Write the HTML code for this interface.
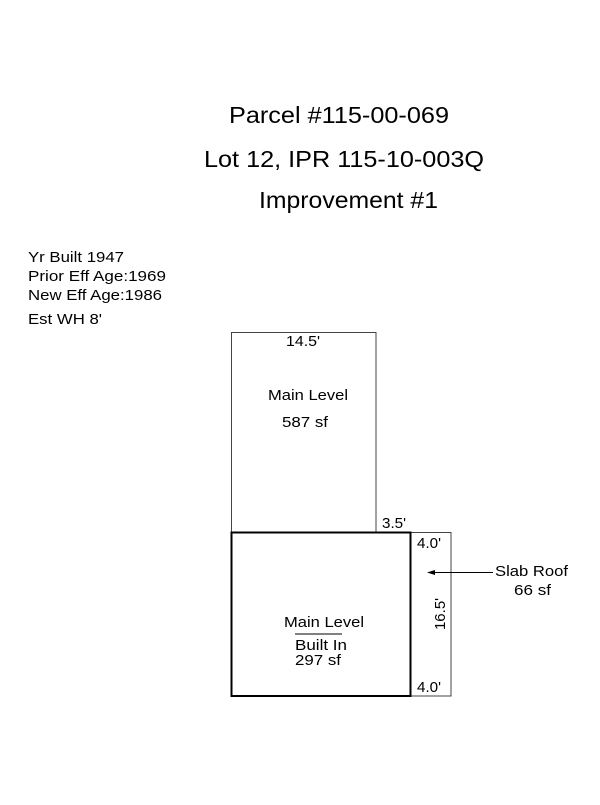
<!DOCTYPE html>
<html><head><style>
html,body{margin:0;padding:0;background:#fff;}
</style></head><body>
<svg width="600" height="800" xmlns="http://www.w3.org/2000/svg" font-family="Liberation Sans, Arial, sans-serif" fill="#000">
<text x="229" y="123" font-size="23" textLength="220" lengthAdjust="spacingAndGlyphs">Parcel #115-00-069</text>
<text x="204" y="167" font-size="23" textLength="280" lengthAdjust="spacingAndGlyphs">Lot 12, IPR 115-10-003Q</text>
<text x="259" y="208" font-size="23" textLength="179" lengthAdjust="spacingAndGlyphs">Improvement #1</text>
<text x="28" y="262" font-size="15" textLength="96" lengthAdjust="spacingAndGlyphs">Yr Built 1947</text>
<text x="28" y="281" font-size="15" textLength="138" lengthAdjust="spacingAndGlyphs">Prior Eff Age:1969</text>
<text x="28" y="300" font-size="15" textLength="134" lengthAdjust="spacingAndGlyphs">New Eff Age:1986</text>
<text x="28" y="324" font-size="15" textLength="74" lengthAdjust="spacingAndGlyphs">Est WH 8'</text>
<rect x="231.5" y="332.5" width="144.5" height="199.5" fill="none" stroke="#444" stroke-width="1"/>
<rect x="411" y="532.5" width="40" height="163.5" fill="none" stroke="#444" stroke-width="1"/>
<rect x="231.5" y="532.5" width="179" height="163.5" fill="none" stroke="#000" stroke-width="2"/>
<text x="286" y="346" font-size="15" textLength="34" lengthAdjust="spacingAndGlyphs">14.5'</text>
<text x="268" y="400" font-size="15" textLength="80" lengthAdjust="spacingAndGlyphs">Main Level</text>
<text x="282" y="427" font-size="15" textLength="46" lengthAdjust="spacingAndGlyphs">587 sf</text>
<text x="382" y="528" font-size="15" textLength="24" lengthAdjust="spacingAndGlyphs">3.5'</text>
<text x="417" y="548" font-size="15" textLength="24" lengthAdjust="spacingAndGlyphs">4.0'</text>
<text x="417" y="692" font-size="15" textLength="24" lengthAdjust="spacingAndGlyphs">4.0'</text>
<text transform="translate(445,614) rotate(-90)" font-size="15" text-anchor="middle">16.5'</text>
<text x="284" y="627" font-size="15" textLength="80" lengthAdjust="spacingAndGlyphs">Main Level</text>
<line x1="295" y1="634" x2="342" y2="634" stroke="#000" stroke-width="1"/>
<text x="295" y="650" font-size="15" textLength="52" lengthAdjust="spacingAndGlyphs">Built In</text>
<text x="295" y="665" font-size="15" textLength="46" lengthAdjust="spacingAndGlyphs">297 sf</text>
<line x1="493" y1="572.5" x2="432" y2="572.5" stroke="#000" stroke-width="1"/>
<polygon points="427,572.5 435,570 435,575" fill="#000"/>
<text x="495" y="576" font-size="15" textLength="73" lengthAdjust="spacingAndGlyphs">Slab Roof</text>
<text x="514" y="595" font-size="15" textLength="37" lengthAdjust="spacingAndGlyphs">66 sf</text>
</svg>
</body></html>
